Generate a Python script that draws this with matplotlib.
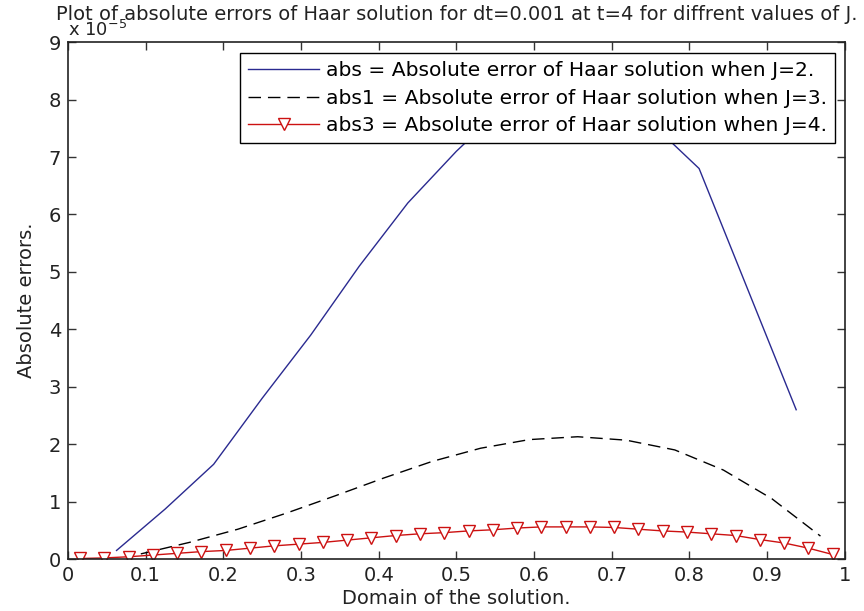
import matplotlib
matplotlib.use("Agg")
import matplotlib.pyplot as plt
import numpy as np

plt.rcParams['font.family'] = ['DejaVu Sans']

# values, in units of 1e-5
x_j2 = [0.0625, 0.125, 0.1875, 0.25, 0.3125, 0.375, 0.4375, 0.5,
        0.5625, 0.625, 0.6875, 0.75, 0.8125, 0.875, 0.9375]
abs_j2 = [0.15, 0.87, 1.65, 2.8, 3.9, 5.1, 6.2, 7.1,
          7.9, 8.25, 8.3, 7.6, 6.8, 4.7, 2.6]

x_j3 = [0.09375, 0.15625, 0.21875, 0.28125, 0.34375, 0.40625, 0.46875, 0.53125,
        0.59375, 0.65625, 0.71875, 0.78125, 0.84375, 0.90625, 0.96875]
abs_j3 = [0.09, 0.29, 0.52, 0.80, 1.10, 1.41, 1.70, 1.93,
          2.08, 2.13, 2.07, 1.90, 1.55, 1.05, 0.40]

x_j4 = [(2 * k - 1) / 64 for k in range(1, 33)]
abs_j4 = [0.01, 0.02, 0.04, 0.07, 0.10, 0.13, 0.15, 0.19,
          0.23, 0.26, 0.29, 0.33, 0.37, 0.41, 0.44, 0.46,
          0.49, 0.51, 0.54, 0.56, 0.56, 0.56, 0.55, 0.52,
          0.49, 0.47, 0.44, 0.41, 0.34, 0.28, 0.19, 0.08]

labels = ['abs = Absolute error of Haar solution when J=2.',
          'abs1 = Absolute error of Haar solution when J=3.',
          'abs3 = Absolute error of Haar solution when J=4.']

scale = 1e-5
yticks = list(range(0, 10))
xticks = [0, 0.1, 0.2, 0.3, 0.4, 0.5, 0.6, 0.7, 0.8, 0.9, 1]
xticklabels = ['0', '0.1', '0.2', '0.3', '0.4', '0.5', '0.6', '0.7', '0.8', '0.9', '1']

fig = plt.figure(figsize=(8.64, 6.11), dpi=100)
ax = fig.add_axes([0.0787, 0.085, 0.899, 0.846])

ax.plot(x_j2, np.array(abs_j2) * scale, color='#2a2a90', lw=1.0, label=labels[0])
ax.plot(x_j3, np.array(abs_j3) * scale, color='black', lw=1.0,
        dashes=(9, 5), label=labels[1])
ax.plot(x_j4, np.array(abs_j4) * scale, color='#cc1111', lw=1.0, marker='v',
        markersize=9, markerfacecolor='white', markeredgecolor='#cc1111',
        label=labels[2])

ax.set_xlim(0, 1)
ax.set_ylim(0, 9 * scale)
ax.set_xticks(xticks)
ax.set_xticklabels(xticklabels)
ax.set_yticks([t * scale for t in yticks])
ax.set_yticklabels([str(t) for t in yticks])
ax.tick_params(direction='in', length=6, width=1, top=True, right=True,
               labelsize=14, pad=5, colors='#333333', labelcolor='#222222')
for s in ax.spines.values():
    s.set_linewidth(1.2)
    s.set_color('#222222')

ax.set_xlabel('Domain of the solution.', fontsize=14, labelpad=3, color='#222222')
ax.set_ylabel('Absolute errors.', fontsize=14, labelpad=9, color='#222222')
ax.set_title('Plot of absolute errors of Haar solution for dt=0.001 at t=4 for diffrent values of J.',
             fontsize=14, pad=16, color='#222222')
# MATLAB-style exponent label, sitting under the title as in the original
fig.text(0.079, 0.935, r'x 10$^{-5}$', fontsize=13, ha='left', va='bottom',
         color='#222222')

leg = ax.legend(loc='upper right', bbox_to_anchor=(0.987, 0.979), borderaxespad=0,
                fontsize=14.6, fancybox=False, framealpha=1, edgecolor='black',
                handlelength=3.5, handletextpad=0.3, labelspacing=0.42,
                borderpad=0.4)
leg.get_frame().set_linewidth(1.0)

fig.savefig('out.png', dpi=100)
